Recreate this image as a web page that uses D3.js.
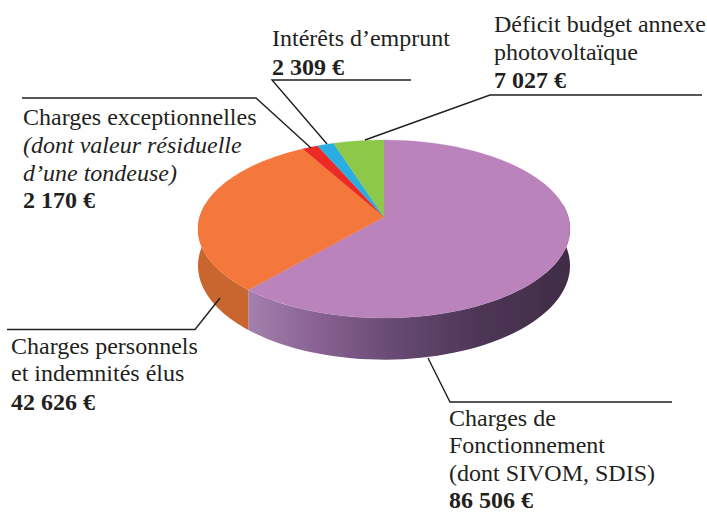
<!DOCTYPE html>
<html><head><meta charset="utf-8">
<script src="https://cdn.jsdelivr.net/npm/d3@7"></script>
<style>html,body{margin:0;padding:0;background:#fff}svg{display:block}</style>
</head><body><svg id="c" width="707" height="513"></svg>
<script>
// Data
const categories = ["Charges de Fonctionnement","Charges personnels et indemnités élus","Charges exceptionnelles","Intérêts d’emprunt","Déficit budget annexe photovoltaïque"];
const seriesValues = [86506,42626,2170,2309,7027];
const sliceColors = ["#ba83bb","#f4773b","#ee2b25","#2aaee2","#8dc84c"];
const wallColors = ["#8f6a98","#c9652f","#b8201c","#1f85ad","#6c9a3a"];
const labelLines = [
  [{t:"Charges de"},{t:"Fonctionnement"},{t:"(dont SIVOM, SDIS)"},{t:"86 506 €",b:1}],
  [{t:"Charges personnels"},{t:"et indemnités élus"},{t:"42 626 €",b:1}],
  [{t:"Charges exceptionnelles"},{t:"(dont valeur résiduelle",i:1},{t:"d’une tondeuse)",i:1},{t:"2 170 €",b:1}],
  [{t:"Intérêts d’emprunt"},{t:"2 309 €",b:1}],
  [{t:"Déficit budget annexe"},{t:"photovoltaïque"},{t:"7 027 €",b:1}]
];
const labelX = [449,11,23,272,494];
const labelY = [[426,453,481,508],[354,381,410],[125,153,181,208],[46,75],[32,60,88]];
const leaders = [
  [[672,402],[450,402],[428,358]],
  [[7,329.5],[195,329.5],[220,298]],
  [[22,98],[256,98],[311,148]],
  [[411,80],[272,80],[327,144]],
  [[702,95],[490,95],[365,140]]
];

const svg = d3.select("#c");
const apex = [384,217], A = 184.3, B = 87.4, K = 0.135, DEPTH = 36;
// perspective mapping of a unit disc angle (clockwise from top)
const proj = (a,r=1,drop=0)=>{
  const u=r*Math.sin(a), v=r*Math.cos(a), w=1+K*v;
  return [apex[0]+A*u/w, apex[1]-B*v/w+drop/w];
};
const pie = d3.pie().sort(null).startAngle(0).endAngle(2*Math.PI);
const arcs = pie(seriesValues);
const line = d3.line();
const samples = (a0,a1)=>d3.range(0,61).map(i=>a0+(a1-a0)*i/60);

const defs = svg.append("defs");
const soft = defs.append("filter").attr("id","soft").attr("x","-5%").attr("y","-5%").attr("width","110%").attr("height","110%");
soft.append("feGaussianBlur").attr("stdDeviation",0.6);
const grad = defs.append("linearGradient").attr("id","wallP").attr("gradientUnits","userSpaceOnUse")
  .attr("x1",250).attr("x2",572).attr("y1",0).attr("y2",0);
[[0,"#a27fad"],[0.2,"#8a6394"],[0.45,"#674a73"],[0.7,"#4f3658"],[1,"#3f2c45"]].forEach(s=>
  grad.append("stop").attr("offset",s[0]).attr("stop-color",s[1]));

const g = svg.append("g").attr("filter","url(#soft)");
// side walls (front half only is visible)
arcs.forEach((d,i)=>{
  const a0=Math.max(d.startAngle,Math.PI/2-0.15), a1=Math.min(d.endAngle,3*Math.PI/2+0.15);
  if(a1<=a0) return;
  const top=samples(a0,a1).map(a=>proj(a));
  const bot=samples(a1,a0).map(a=>proj(a,1,DEPTH));
  g.append("path").attr("d",line(top.concat(bot))+"Z")
    .attr("fill",i===0?"url(#wallP)":wallColors[i]);
});
// top face
arcs.forEach((d,i)=>{
  const pts=[apex].concat(samples(d.startAngle,d.endAngle).map(a=>proj(a)));
  g.append("path").attr("d",line(pts)+"Z").attr("fill",sliceColors[i])
    .attr("stroke",sliceColors[i]).attr("stroke-width",0.3);
});
// leaders
leaders.forEach(l=>svg.append("path").attr("d",line(l)).attr("fill","none")
  .attr("stroke","#231f20").attr("stroke-width",1.4));
// labels
labelLines.forEach((lines,i)=>{
  lines.forEach((l,j)=>{
    svg.append("text").attr("x",labelX[i]).attr("y",labelY[i][j])
      .attr("font-family","'Liberation Serif',serif").attr("font-size",24)
      .attr("font-weight",l.b?"bold":"normal").attr("font-style",l.i?"italic":"normal")
      .attr("fill","#231f20").text(l.t);
  });
});
</script></body></html>
